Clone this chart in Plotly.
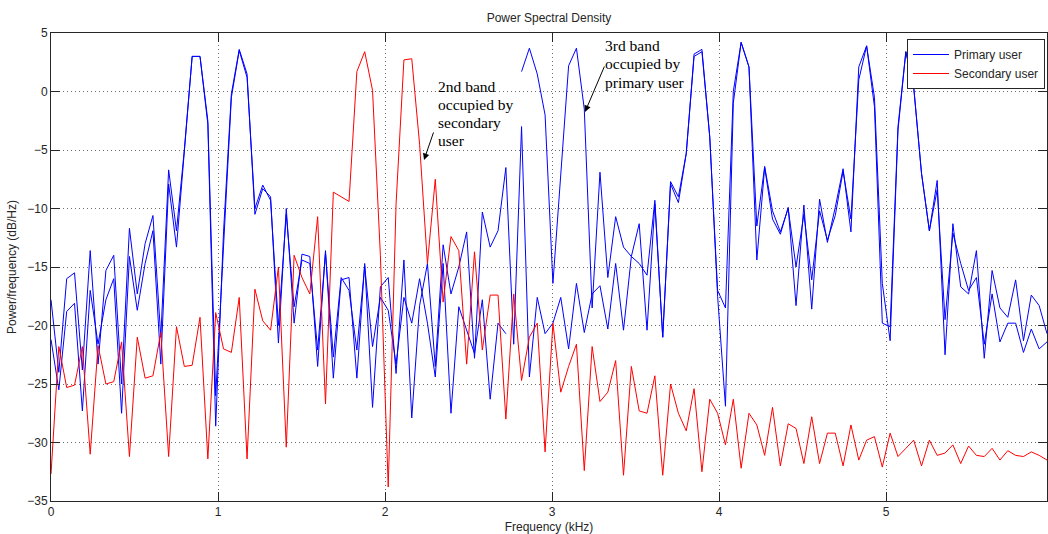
import numpy as np
import plotly.graph_objects as go

# ---------------- data ----------------
F_MAX = 5.964          # kHz, last frequency bin
N_BINS = 128
freq_khz = np.arange(N_BINS) * (F_MAX / (N_BINS - 1))

primary_a = [
    -17.8, -24.0, -16.0, -15.5, -23.8, -13.6, -23.3, -15.3, -14.0, -25.0,
    -11.7, -17.3, -13.0, -10.6, -21.0, -6.7, -11.9, -5.0, 3.0, 3.0,
    -2.8, -28.6, -12.0, -0.2, 3.6, 1.5, -10.5, -8.3, -9.0, -21.5,
    -10.0, -19.8, -13.9, -14.1, -23.5, -13.6, -24.5, -16.1, -15.9, -24.5,
    -14.7, -27.0, -16.7, -15.9, -24.1, -14.4, -27.9, -18.3, -14.7, -23.5,
    -13.1, -17.3, -15.0, -12.0, -22.8, -10.3, -13.3, -11.9, -6.5, -21.6,
    -3.0, -24.4, -17.6, -20.7, -19.8, -17.6, -22.0, -16.4, -20.6, -17.3,
    -16.6, -20.3, -14.7, -20.4, -14.1, -11.3, -20.4, -9.6, -21.0, -7.7,
    -9.0, -5.3, 3.2, 3.6, -3.9, -17.5, -26.9, -1.0, 4.2, 2.1,
    -14.4, -6.5, -10.9, -12.2, -9.9, -18.3, -9.7, -18.6, -9.2, -12.9,
    -9.9, -6.6, -12.0, 2.1, 3.9, -0.5, -16.4, -21.3, -3.3, 3.4,
    0.4, -7.0, -11.9, -7.6, -22.5, -11.3, -16.7, -17.3, -13.6, -22.8,
    -15.3, -18.5, -19.3, -16.1, -21.3, -17.4, -18.3, -20.7,
]

primary_b = [
    -21.2, -25.5, -18.8, -18.1, -27.3, -17.0, -21.6, -17.8, -16.0, -27.5,
    -14.1, -18.7, -14.7, -11.9, -23.3, -7.9, -13.3, -5.2, 3.0, 3.0,
    -2.5, -26.0, -13.0, -0.5, 3.5, 1.2, -10.0, -8.0, -9.3, -20.0,
    -10.5, -18.4, -14.4, -14.7, -22.1, -13.8, -22.7, -15.9, -17.0, -22.1,
    -14.9, -21.8, -17.6, -18.7, -23.3, -17.6, -19.8, -16.0, -19.8, -24.4,
    -14.7, -27.5, -18.4, -20.4, -22.4, -17.8, -26.3, -19.8, -20.7, None,
    1.7, 3.7, 1.5, -2.0, -16.4, -7.0, 2.2, 3.7, -1.5, -18.5,
    -6.9, -15.9, -10.7, -13.3, -14.1, -14.7, -15.7, -9.3, -21.0, -7.9,
    -9.5, -5.3, 3.0, 3.4, -3.9, -17.0, -18.5, 0.0, 4.2, 2.1,
    -11.5, -6.4, -10.2, -12.0, -10.0, -15.0, -10.5, -16.1, -10.2, -12.7,
    -10.6, -6.8, -10.9, 1.0, 3.9, -1.3, -19.8, -20.1, -3.0, 3.4,
    0.4, -7.0, -11.9, -8.4, -19.5, -12.1, -14.7, -17.0, -15.9, -21.6,
    -17.3, -21.4, -19.8, -19.8, -22.3, -20.3, -22.0, -21.4,
]

secondary = [
    -32.7, -21.8, -25.3, -25.1, -21.8, -31.0, -21.7, -25.0, -24.8, -21.4,
    -31.2, -21.0, -24.5, -24.3, -20.6, -31.2, -20.1, -23.5, -23.4, -19.3,
    -31.4, -18.9, -22.0, -22.3, -17.6, -31.4, -16.9, -19.6, -20.4, -15.0,
    -30.4, -14.0, -15.9, -17.3, -10.7, -26.7, -8.6, -9.0, -9.4, 1.7,
    3.4, 0.1, -14.0, -33.8, -9.6, 2.7, 2.8, -4.5, -14.7, -7.5,
    -18.0, -12.4, -13.6, -23.3, -13.7, -22.1, -17.4, -17.4, -28.0, -17.3,
    -24.7, -21.0, -19.8, -30.8, -19.8, -25.7, -23.5, -21.6, -32.4, -21.8,
    -26.5, -25.7, -23.0, -32.8, -23.5, -27.3, -27.5, -24.3, -32.8, -25.0,
    -27.5, -29.0, -25.4, -32.5, -26.3, -27.5, -30.2, -26.3, -32.2, -27.5,
    -28.5, -31.1, -27.0, -32.0, -28.4, -28.8, -31.8, -27.8, -31.8, -29.2,
    -29.2, -32.0, -28.5, -31.5, -29.8, -29.5, -32.1, -29.2, -31.2, -30.5,
    -29.8, -32.0, -29.8, -31.1, -30.9, -30.2, -31.8, -30.3, -31.1, -31.2,
    -30.5, -31.5, -30.7, -31.1, -31.2, -30.8, -31.1, -31.5,
]

x_ticks = [0, 1, 2, 3, 4, 5]
y_ticks = [5, 0, -5, -10, -15, -20, -25, -30, -35]

title_text = "Power Spectral Density"
x_label = "Frequency (kHz)"
y_label = "Power/frequency (dB/Hz)"
series_names = ["Primary user", "Secondary user"]

note1_lines = ["2nd band", "occupied by", "secondary", "user"]
note2_lines = ["3rd band", "occupied by", "primary user"]

# ---------------- layout geometry ----------------
W, H = 1048, 534
ML, MR, MT, MB = 51, 1, 33, 33
PW, PH = W - ML - MR, H - MT - MB
Y0, Y1 = -35, 5


def px_to_x(px):
    return (px - ML) / PW * F_MAX


def py_to_y(py):
    return Y1 - (py - MT) / PH * (Y1 - Y0)


sans = "Liberation Sans, Arial, Helvetica, sans-serif"
serif = "Liberation Serif, Times New Roman, serif"

fig = go.Figure()
fig.add_trace(go.Scatter(x=freq_khz, y=primary_a, mode="lines", name=series_names[0],
                         line=dict(color="#0000ff", width=1), connectgaps=False))
fig.add_trace(go.Scatter(x=freq_khz, y=primary_b, mode="lines", name=series_names[0],
                         showlegend=False,
                         line=dict(color="#0000ff", width=1), connectgaps=False))
fig.add_trace(go.Scatter(x=freq_khz, y=secondary, mode="lines", name=series_names[1],
                         line=dict(color="#ff0000", width=1)))

axis_common = dict(
    showline=True, linecolor="#262626", linewidth=1, mirror="ticks",
    ticks="inside", ticklen=9, tickcolor="#262626", tickwidth=1,
    showgrid=True, gridcolor="rgba(60,60,60,0.75)", griddash="1px,3px", gridwidth=1,
    zeroline=False, tickfont=dict(family=sans, size=12, color="#262626"),
)

fig.update_layout(
    width=W, height=H,
    margin=dict(l=ML, r=MR, t=MT, b=MB),
    paper_bgcolor="white", plot_bgcolor="white",
    title=dict(text=title_text, x=0.5, xanchor="center", xref="paper",
               y=1 - 18 / H, yref="container", yanchor="middle",
               font=dict(family=sans, size=12, color="#262626")),
    xaxis=dict(range=[0, F_MAX], tickvals=x_ticks, **axis_common,
               title=dict(text=x_label, standoff=4,
                          font=dict(family=sans, size=12, color="#262626"))),
    yaxis=dict(range=[Y0, Y1], tickvals=y_ticks, **axis_common,
               title=dict(text=y_label, standoff=8,
                          font=dict(family=sans, size=12, color="#262626"))),
    legend=dict(x=(1045 - ML) / PW, xanchor="right", y=(H - MB - 39) / PH, yanchor="top",
                bgcolor="white", bordercolor="#262626", borderwidth=1,
                font=dict(family=sans, size=12, color="#262626"),
                tracegroupgap=0, itemwidth=36),
    showlegend=True,
)

# arrows (head position, tail offset in pixels)
fig.add_annotation(x=px_to_x(424), y=py_to_y(160), ax=10, ay=-29, text="",
                   showarrow=True, arrowhead=2, arrowsize=1.3, arrowwidth=1,
                   arrowcolor="black", standoff=0)
fig.add_annotation(x=px_to_x(585), y=py_to_y(112), ax=20, ay=-47, text="",
                   showarrow=True, arrowhead=2, arrowsize=1.3, arrowwidth=1,
                   arrowcolor="black", standoff=0)

for i, line in enumerate(note1_lines):
    fig.add_annotation(x=px_to_x(436), y=py_to_y(86 + 18.3 * i), text=line,
                       showarrow=False, xanchor="left", yanchor="middle",
                       font=dict(family=serif, size=15.5, color="black"))
for i, line in enumerate(note2_lines):
    fig.add_annotation(x=px_to_x(603), y=py_to_y(45 + 18.7 * i), text=line,
                       showarrow=False, xanchor="left", yanchor="middle",
                       font=dict(family=serif, size=15.5, color="black"))

fig.write_html("out.html", config={"displayModeBar": False})
